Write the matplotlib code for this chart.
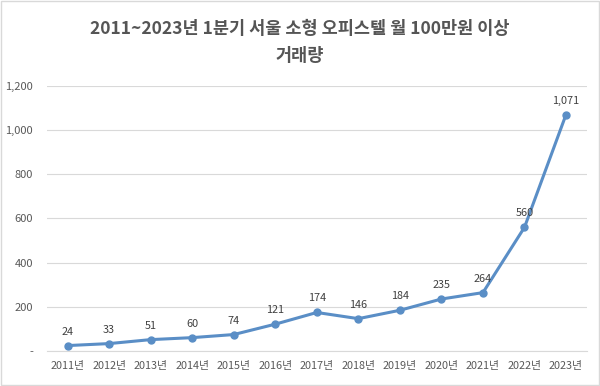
import matplotlib
matplotlib.use("Agg")
import matplotlib.pyplot as plt
from matplotlib.ticker import FuncFormatter
from matplotlib.patches import Rectangle

plt.rcParams['font.family'] = ['Noto Sans CJK KR', 'DejaVu Sans']

years = ["2011년", "2012년", "2013년", "2014년", "2015년", "2016년", "2017년",
         "2018년", "2019년", "2020년", "2021년", "2022년", "2023년"]
counts = [24, 33, 51, 60, 74, 121, 174, 146, 184, 235, 264, 560, 1071]
title = "2011~2023년 1분기 서울 소형 오피스텔 월 100만원 이상\n거래량"

fig = plt.figure(figsize=(6.0, 3.86), dpi=100)
ax = fig.add_axes([0.078, 0.091, 0.900, 0.686])

xs = range(len(years))
ax.plot(xs, counts, "-o", color="#5a8ec6", lw=2.2, ms=5, zorder=3)
for x, v in zip(xs, counts):
    ax.annotate(f"{v:,}", (x, v), textcoords="offset points", xytext=(0, 6.5),
                ha="center", va="bottom", fontsize=7.8, color="#404040")

ax.set_xlim(-0.5, len(years) - 0.5)
ax.set_ylim(0, 1200)
ax.set_yticks(range(0, 1201, 200))
ax.yaxis.set_major_formatter(FuncFormatter(lambda v, p: "-" if v == 0 else f"{int(v):,}"))
ax.set_xticks(list(xs))
ax.set_xticklabels(years)
ax.tick_params(axis="x", length=0, labelsize=7.8, colors="#595959", pad=7)
ax.tick_params(axis="y", length=0, labelsize=8, colors="#595959", pad=10)
ax.grid(True, axis="y", color="#d9d9d9", lw=0.8)
ax.set_axisbelow(True)
for s in ["top", "right", "left"]:
    ax.spines[s].set_visible(False)
ax.spines["bottom"].set_color("#d9d9d9")

fig.text(0.5, 0.89, title, ha="center", va="center", fontsize=12.6,
         fontweight="bold", color="#555555", linespacing=1.7)
fig.patches.append(Rectangle((0.002, 0.003), 0.996, 0.994, transform=fig.transFigure,
                             fill=False, edgecolor="#d9d9d9", lw=1))

fig.savefig("out.png", dpi=100)
